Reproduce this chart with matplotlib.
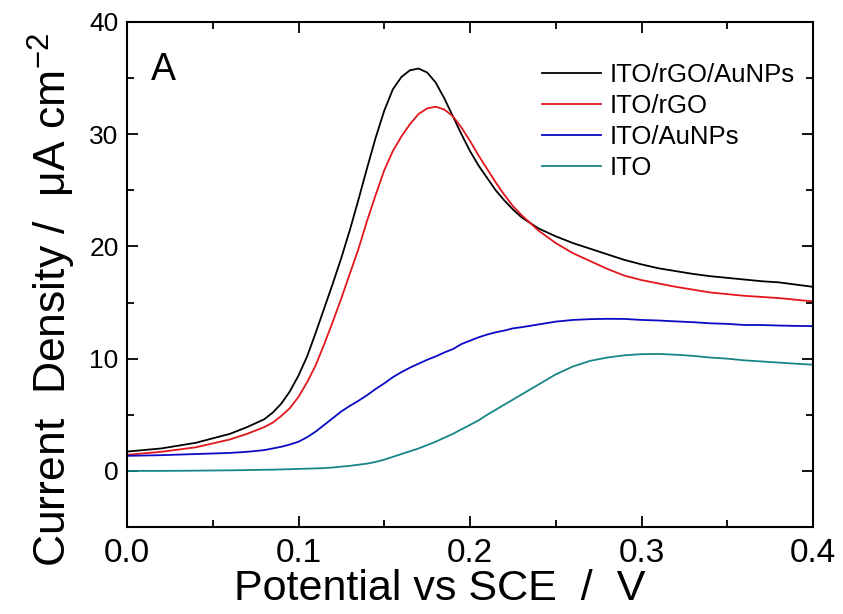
import numpy as np
import matplotlib
matplotlib.use('Agg')
import matplotlib.pyplot as plt
from matplotlib.ticker import MultipleLocator, FormatStrFormatter

plt.rcParams['font.family'] = ['Liberation Sans', 'DejaVu Sans']
plt.rcParams['mathtext.fontset'] = 'custom'
plt.rcParams['mathtext.rm'] = 'Liberation Sans'
plt.rcParams['mathtext.it'] = 'Liberation Sans'

# potential (V vs SCE), sampled finer around the rise and the peaks
potential = [0.00, 0.02, 0.04, 0.06, 0.07, 0.08, 0.085, 0.09, 0.095, 0.10,
             0.105, 0.11, 0.115, 0.12, 0.125, 0.13, 0.135, 0.14, 0.145, 0.15,
             0.155, 0.16, 0.165, 0.17, 0.175, 0.18, 0.185, 0.19, 0.195, 0.20,
             0.205, 0.21, 0.215, 0.22, 0.225, 0.23, 0.24, 0.25, 0.26, 0.27,
             0.28, 0.29, 0.30, 0.31, 0.32, 0.33, 0.34, 0.35, 0.36, 0.37,
             0.38, 0.39, 0.40]

ito_rgo_aunps = [1.72, 2.0, 2.5, 3.3, 3.9, 4.6, 5.2, 6.0, 7.1, 8.5,
                 10.2, 12.3, 14.5, 16.7, 19.0, 21.5, 24.2, 27.0, 29.7, 32.1,
                 34.0, 35.1, 35.7, 35.85, 35.5, 34.6, 33.2, 31.6, 30.0, 28.5,
                 27.2, 26.1, 25.0, 24.1, 23.3, 22.6, 21.6, 20.9, 20.3, 19.8,
                 19.3, 18.8, 18.4, 18.05, 17.8, 17.55, 17.35, 17.2, 17.05, 16.9,
                 16.8, 16.6, 16.4]

ito_rgo = [1.43, 1.7, 2.1, 2.8, 3.3, 3.9, 4.3, 4.9, 5.6, 6.6,
           7.9, 9.4, 11.3, 13.3, 15.4, 17.6, 19.8, 22.3, 24.6, 26.8,
           28.5, 29.8, 30.9, 31.8, 32.3, 32.45, 32.2, 31.6, 30.6, 29.4,
           28.1, 26.9, 25.7, 24.6, 23.6, 22.8, 21.4, 20.3, 19.4, 18.7,
           18.0, 17.4, 17.0, 16.7, 16.4, 16.15, 15.9, 15.75, 15.6, 15.5,
           15.4, 15.25, 15.1]

ito_aunps = [1.34, 1.4, 1.5, 1.6, 1.7, 1.85, 2.0, 2.15, 2.35, 2.6,
             3.0, 3.5, 4.1, 4.7, 5.3, 5.8, 6.25, 6.75, 7.3, 7.8,
             8.35, 8.8, 9.2, 9.55, 9.9, 10.2, 10.55, 10.85, 11.3, 11.6,
             11.9, 12.15, 12.35, 12.5, 12.7, 12.8, 13.05, 13.3, 13.45, 13.52,
             13.55, 13.54, 13.45, 13.4, 13.32, 13.25, 13.15, 13.1, 13.0, 13.0,
             12.95, 12.92, 12.9]

ito = [0.0, 0.0, 0.02, 0.05, 0.07, 0.1, 0.11, 0.13, 0.15, 0.18,
       0.2, 0.22, 0.25, 0.3, 0.38, 0.45, 0.55, 0.65, 0.8, 1.0,
       1.25, 1.5, 1.75, 2.0, 2.3, 2.6, 2.95, 3.3, 3.7, 4.1,
       4.5, 5.0, 5.45, 5.9, 6.35, 6.8, 7.7, 8.6, 9.3, 9.8,
       10.1, 10.3, 10.4, 10.42, 10.35, 10.25, 10.1, 10.0, 9.85, 9.75,
       9.65, 9.55, 9.46]

labels = ['ITO/rGO/AuNPs', 'ITO/rGO', 'ITO/AuNPs', 'ITO']
colors = ['black', '#e2161c', '#0a0ac4', '#188585']
series = [ito_rgo_aunps, ito_rgo, ito_aunps, ito]

fig = plt.figure(figsize=(8.43, 6.14), dpi=100)
ax = fig.add_axes([0.1507, 0.1417, 0.8137, 0.8225])

for y, c, lab in zip(series, colors, labels):
    ax.plot(potential, y, color=c, lw=1.3, label=lab)

ax.set_xlim(0, 0.4)
ax.set_ylim(-5, 40)
ax.xaxis.set_major_locator(MultipleLocator(0.1))
ax.xaxis.set_minor_locator(MultipleLocator(0.05))
ax.yaxis.set_major_locator(MultipleLocator(10))
ax.yaxis.set_minor_locator(MultipleLocator(5))
ax.xaxis.set_major_formatter(FormatStrFormatter('%.1f'))
ax.tick_params(which='both', direction='in', top=True, right=True, width=1.3)
ax.tick_params(which='major', length=8)
ax.tick_params(which='minor', length=5)
ax.tick_params(axis='x', labelsize=24, pad=8)
ax.tick_params(axis='y', labelsize=19, pad=6)
for s in ax.spines.values():
    s.set_linewidth(1.5)

ax.set_xlabel('Potential vs SCE  /  V', fontsize=31, labelpad=0)
ax.xaxis.label.set_x(0.456)
ax.set_ylabel('Current  Density /  μA cm$^{-2}$', fontsize=32, labelpad=8)
ax.yaxis.label.set_y(0.45)

ax.text(0.035, 0.941, 'A', transform=ax.transAxes, fontsize=27, va='top')

ax.legend(loc='upper right', frameon=False, fontsize=18.5, handlelength=2.3,
          handletextpad=0.3, labelspacing=0.27, borderaxespad=0.3,
          bbox_to_anchor=(0.999, 0.955))

fig.savefig('out.png', dpi=100)
